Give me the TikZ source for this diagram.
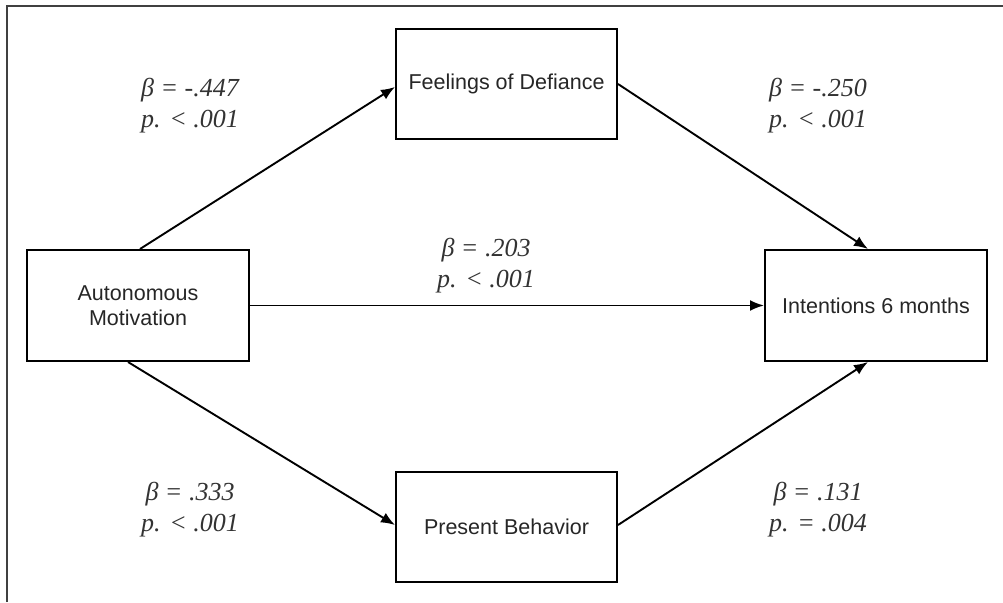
\documentclass[tikz,border=0pt]{standalone}
\usepackage{fontspec}
\setmainfont{Liberation Serif}
\newfontfamily\boxfont{Liberation Sans}
\usetikzlibrary{arrows.meta}

\begin{document}
\begin{tikzpicture}[x=1pt,y=1pt,
    varbox/.style={draw,line width=2pt,minimum width=222pt,minimum height=111pt,align=center,
      text=black!85,font=\boxfont\fontsize{21.5}{25}\selectfont},
    path/.style={line width=1.9pt,-{Latex[length=14pt,width=11pt]}},
    coef/.style={align=center,text=black!80,font=\itshape\fontsize{26}{31}\selectfont}]
    \useasboundingbox (0,0) rectangle (1003,602);
    % frame
    \draw[line width=1.3pt,black!75] (7,0) -- (7,596) -- (1003,596);
    % variables
    \node[varbox] (auto) at (138,296.5) {Autonomous\\Motivation};
    \node[varbox,minimum width=221pt,minimum height=110pt] (feel) at (506.5,518) {Feelings of Defiance};
    \node[varbox] (inten) at (876,296.5) {Intentions 6 months};
    \node[varbox,minimum width=221pt,minimum height=110pt] (pres) at (506.5,75) {Present Behavior};
    % paths
    \draw[path] ([xshift=2pt]auto.north) -- ([yshift=-3pt]feel.west);
    \draw[path] (feel.east) -- ([xshift=-8pt]inten.north);
    \draw[path] (auto.east) -- (inten.west);
    \draw[path] ([xshift=-10pt]auto.south) -- ([yshift=2pt]pres.west);
    \draw[path] ([yshift=2pt]pres.east) -- ([xshift=-8pt]inten.south);
    % coefficients
    \node[coef] (c1) at (190,496) {β = -.447\\p. < .001};
    \node[coef] (c2) at (818,496) {β = -.250\\p. < .001};
    \node[coef] (c3) at (486,336) {β = .203\\p. < .001};
    \node[coef] (c4) at (190,92) {β = .333\\p. < .001};
    \node[coef] (c5) at (818,92) {β = .131\\p. = .004};
  \end{tikzpicture}
\end{document}
